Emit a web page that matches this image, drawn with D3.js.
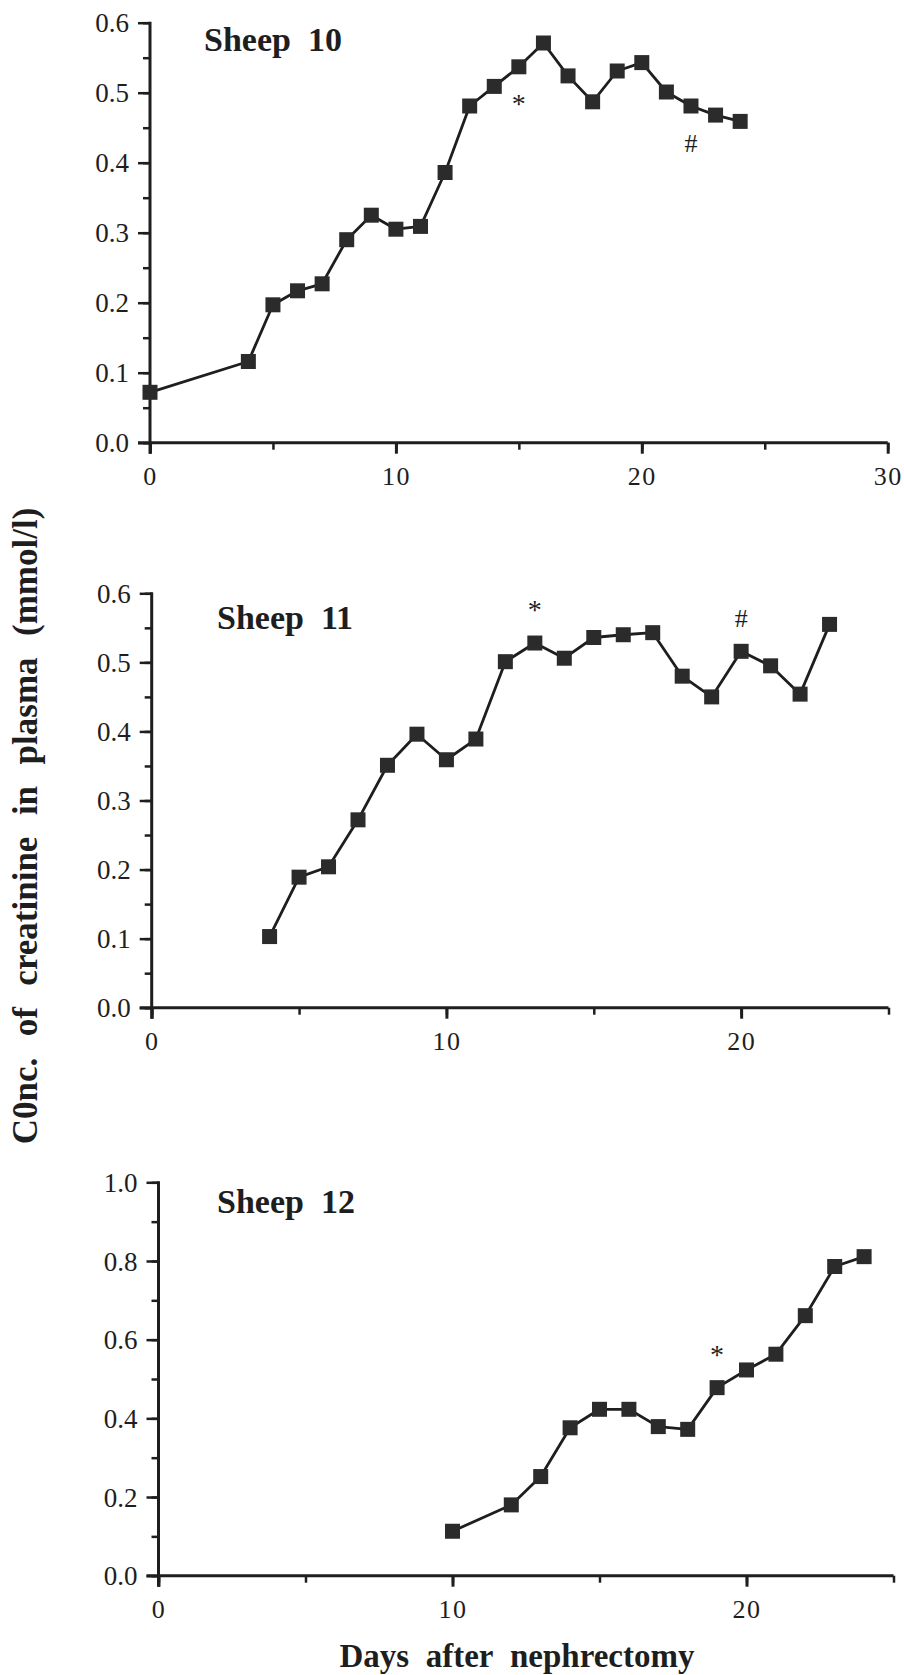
<!DOCTYPE html>
<html>
<head>
<meta charset="utf-8">
<script src="https://cdn.jsdelivr.net/npm/d3@7"></script>
<style>
  body { margin: 0; background: #fff; }
  svg { display: block; }
</style>
</head>
<body>
<svg id="chart" width="904" height="1675"></svg>
<script>
// creatinine in plasma (mmol/l) by day after nephrectomy
const days10 = [0, 4, 5, 6, 7, 8, 9, 10, 11, 12, 13, 14, 15, 16, 17, 18, 19, 20, 21, 22, 23, 24];
const creat10 = [0.072, 0.116, 0.197, 0.217, 0.227, 0.290, 0.325, 0.305, 0.309, 0.386, 0.481,
  0.509, 0.537, 0.571, 0.524, 0.487, 0.531, 0.543, 0.501, 0.481, 0.468, 0.459];

const days11 = [4, 5, 6, 7, 8, 9, 10, 11, 12, 13, 14, 15, 16, 17, 18, 19, 20, 21, 22, 23];
const creat11 = [0.103, 0.189, 0.204, 0.272, 0.351, 0.396, 0.359, 0.389, 0.501, 0.528,
  0.506, 0.536, 0.540, 0.543, 0.480, 0.450, 0.516, 0.495, 0.454, 0.555];

const days12 = [10, 12, 13, 14, 15, 16, 17, 18, 19, 20, 21, 22, 23, 24];
const creat12 = [0.113, 0.180, 0.252, 0.376, 0.423, 0.423, 0.379, 0.372, 0.478, 0.523,
  0.563, 0.661, 0.786, 0.811];

// significance marks: [day, symbol, side of the point]
const marks10 = [[15, "*", "below"], [22, "#", "below"]];
const marks11 = [[13, "*", "above"], [20, "#", "above"]];
const marks12 = [[19, "*", "above"]];

const xTicks30 = [0, 10, 20, 30];
const xTicks25 = [0, 10, 20];

const panels = [
  { title: "Sheep\u00a0\u00a010", days: days10, values: creat10, marks: marks10,
    xMax: 30, xTicks: xTicks30, yMax: 0.6, yStep: 0.1, yMinor: 0.05,
    box: { left: 150, right: 887.7, top: 22.7, bottom: 442.7 }, titleX: 204, titleY: 51 },
  { title: "Sheep\u00a0\u00a011", days: days11, values: creat11, marks: marks11,
    xMax: 25, xTicks: xTicks25, yMax: 0.6, yStep: 0.1, yMinor: 0.05,
    box: { left: 151.7, right: 888.5, top: 593.3, bottom: 1007.7 }, titleX: 217, titleY: 629 },
  { title: "Sheep\u00a0\u00a012", days: days12, values: creat12, marks: marks12,
    xMax: 25, xTicks: xTicks25, yMax: 1.0, yStep: 0.2, yMinor: 0.1,
    box: { left: 158.5, right: 893.5, top: 1182.3, bottom: 1575.7 }, titleX: 217, titleY: 1213 },
];

const ink = "#1e1e1e";
const serif = '"Liberation Serif", "Times New Roman", Times, serif';
const svg = d3.select("#chart").style("font-family", serif);

const range = (a, b, s) => d3.range(Math.round(a / s), Math.round(b / s) + 1).map((i) => +(i * s).toFixed(3));

// d3 axes default to sans-serif; switch them back to the serif face
const styleAxis = (a, width, size) => {
  a.attr("font-family", serif);
  a.select(".domain").remove();
  a.selectAll("line").attr("stroke", ink).attr("stroke-width", width);
  a.selectAll("text").style("font-family", serif).attr("font-size", size).attr("fill", ink);
};

panels.forEach((p) => {
  const { left, right, top, bottom } = p.box;
  const x = d3.scaleLinear().domain([0, p.xMax]).range([left, right]);
  const y = d3.scaleLinear().domain([0, p.yMax]).range([bottom, top]);
  const g = svg.append("g").attr("class", "panel");

  // minor ticks
  g.append("g")
    .attr("transform", `translate(${left},0)`)
    .call(d3.axisLeft(y).tickValues(range(0, p.yMax, p.yMinor)).tickSize(7).tickFormat(""))
    .call(styleAxis, 2.5, 0);
  g.append("g")
    .attr("transform", `translate(0,${bottom})`)
    .call(d3.axisBottom(x).tickValues(range(0, p.xMax, 5)).tickSize(7).tickFormat(""))
    .call(styleAxis, 2.5, 0);

  // major ticks with labels
  g.append("g")
    .attr("transform", `translate(${left},0)`)
    .call(d3.axisLeft(y).tickValues(range(0, p.yMax, p.yStep)).tickSize(12).tickPadding(9)
      .tickFormat(d3.format(".1f")))
    .call(styleAxis, 2.5, 27)
    .call((a) => a.selectAll("text").attr("dy", "0.34em"));
  g.append("g")
    .attr("transform", `translate(0,${bottom})`)
    .call(d3.axisBottom(x).tickValues(p.xTicks).tickSize(11).tickPadding(13))
    .call(styleAxis, 3, 26)
    .call((a) => a.selectAll("text").attr("letter-spacing", 1.5));

  // axis lines, crossing a little past the origin
  g.append("line").attr("x1", left - 12).attr("x2", right).attr("y1", bottom).attr("y2", bottom)
    .attr("stroke", ink).attr("stroke-width", 3);
  g.append("line").attr("x1", left).attr("x2", left).attr("y1", top - 1).attr("y2", bottom + 11)
    .attr("stroke", ink).attr("stroke-width", 3);

  const pts = p.days.map((d, i) => [d, p.values[i]]);
  g.append("path")
    .datum(pts)
    .attr("fill", "none")
    .attr("stroke", ink)
    .attr("stroke-width", 2.8)
    .attr("stroke-linejoin", "round")
    .attr("d", d3.line().x((d) => x(d[0])).y((d) => y(d[1])));

  const s = 15;
  g.selectAll("rect.pt")
    .data(pts)
    .join("rect")
    .attr("class", "pt")
    .attr("x", (d) => x(d[0]) - s / 2)
    .attr("y", (d) => y(d[1]) - s / 2)
    .attr("width", s)
    .attr("height", s)
    .attr("fill", "#2b2b2b");

  g.selectAll("text.mark")
    .data(p.marks)
    .join("text")
    .attr("class", "mark")
    .attr("x", (d) => x(d[0]))
    .attr("y", (d) => {
      const v = p.values[p.days.indexOf(d[0])];
      return y(v) + (d[2] === "above" ? -24 : 46);
    })
    .attr("text-anchor", "middle")
    .attr("font-size", (d) => (d[1] === "#" ? 26 : 28))
    .attr("fill", ink)
    .text((d) => d[1]);

  g.append("text")
    .attr("x", p.titleX)
    .attr("y", p.titleY)
    .attr("font-size", 34)
    .attr("font-weight", "bold")
    .attr("fill", ink)
    .text(p.title);
});

// shared axis titles
svg.append("text")
  .attr("transform", "translate(37,826) rotate(-90)")
  .attr("text-anchor", "middle")
  .attr("font-size", 35)
  .attr("font-weight", "bold")
  .attr("word-spacing", 2)
  .attr("fill", ink)
  .text("C0nc.\u00a0 of\u00a0 creatinine\u00a0 in\u00a0 plasma\u00a0 (mmol/l)");

svg.append("text")
  .attr("x", 517)
  .attr("y", 1667)
  .attr("text-anchor", "middle")
  .attr("font-size", 33)
  .attr("font-weight", "bold")
  .attr("fill", ink)
  .text("Days\u00a0\u00a0after\u00a0\u00a0nephrectomy");
</script>
</body>
</html>
